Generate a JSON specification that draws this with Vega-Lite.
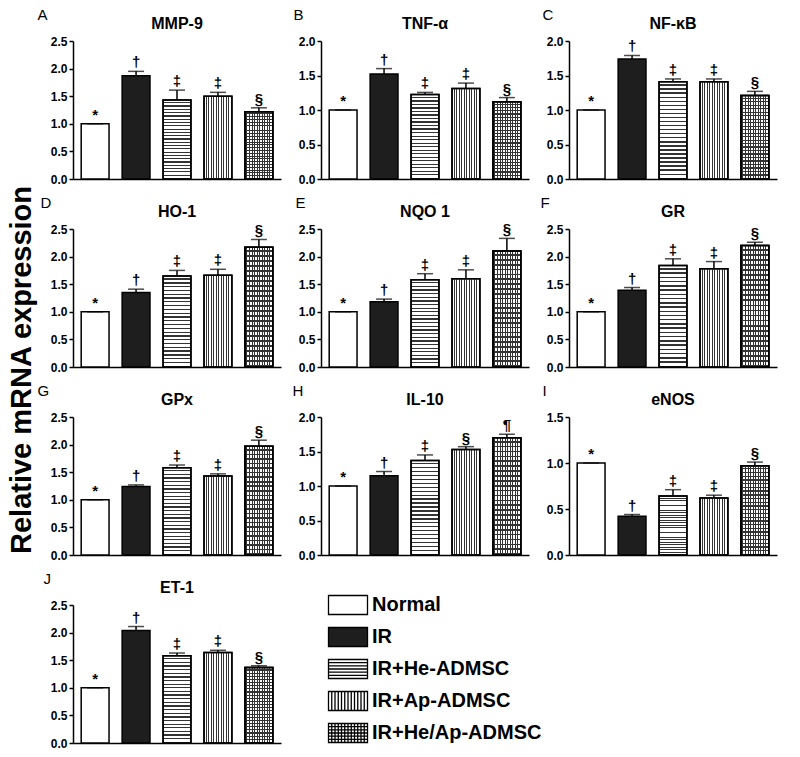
{
"$schema": "https://vega.github.io/schema/vega-lite/v6.json",
"padding": {"left": 7, "top": 7, "right": 5, "bottom": 5},
"title": {"text": "Relative mRNA expression", "orient": "left", "anchor": "middle", "frame": "bounds", "fontSize": 29, "fontWeight": "bold", "offset": -29, "dy": 0, "dx": 8, "baseline": "bottom"},
"datasets": {"d": [
{"gene":"MMP-9","group":"Normal","mean":1.0,"upper":1.0,"sym":"*"},
{"gene":"MMP-9","group":"IR","mean":1.87,"upper":1.95,"sym":"†"},
{"gene":"MMP-9","group":"IR+He-ADMSC","mean":1.43,"upper":1.61,"sym":"‡"},
{"gene":"MMP-9","group":"IR+Ap-ADMSC","mean":1.5,"upper":1.57,"sym":"‡"},
{"gene":"MMP-9","group":"IR+He/Ap-ADMSC","mean":1.22,"upper":1.29,"sym":"§"},
{"gene":"TNF-α","group":"Normal","mean":1.0,"upper":1.0,"sym":"*"},
{"gene":"TNF-α","group":"IR","mean":1.52,"upper":1.6,"sym":"†"},
{"gene":"TNF-α","group":"IR+He-ADMSC","mean":1.225,"upper":1.255,"sym":"‡"},
{"gene":"TNF-α","group":"IR+Ap-ADMSC","mean":1.31,"upper":1.39,"sym":"‡"},
{"gene":"TNF-α","group":"IR+He/Ap-ADMSC","mean":1.12,"upper":1.18,"sym":"§"},
{"gene":"NF-κB","group":"Normal","mean":1.0,"upper":1.0,"sym":"*"},
{"gene":"NF-κB","group":"IR","mean":1.74,"upper":1.79,"sym":"†"},
{"gene":"NF-κB","group":"IR+He-ADMSC","mean":1.41,"upper":1.45,"sym":"‡"},
{"gene":"NF-κB","group":"IR+Ap-ADMSC","mean":1.41,"upper":1.45,"sym":"‡"},
{"gene":"NF-κB","group":"IR+He/Ap-ADMSC","mean":1.21,"upper":1.27,"sym":"§"},
{"gene":"HO-1","group":"Normal","mean":1.0,"upper":1.0,"sym":"*"},
{"gene":"HO-1","group":"IR","mean":1.35,"upper":1.41,"sym":"†"},
{"gene":"HO-1","group":"IR+He-ADMSC","mean":1.65,"upper":1.75,"sym":"‡"},
{"gene":"HO-1","group":"IR+Ap-ADMSC","mean":1.66,"upper":1.77,"sym":"‡"},
{"gene":"HO-1","group":"IR+He/Ap-ADMSC","mean":2.17,"upper":2.31,"sym":"§"},
{"gene":"NQO 1","group":"Normal","mean":1.0,"upper":1.0,"sym":"*"},
{"gene":"NQO 1","group":"IR","mean":1.18,"upper":1.23,"sym":"†"},
{"gene":"NQO 1","group":"IR+He-ADMSC","mean":1.58,"upper":1.69,"sym":"‡"},
{"gene":"NQO 1","group":"IR+Ap-ADMSC","mean":1.6,"upper":1.76,"sym":"‡"},
{"gene":"NQO 1","group":"IR+He/Ap-ADMSC","mean":2.1,"upper":2.33,"sym":"§"},
{"gene":"GR","group":"Normal","mean":1.0,"upper":1.0,"sym":"*"},
{"gene":"GR","group":"IR","mean":1.39,"upper":1.44,"sym":"†"},
{"gene":"GR","group":"IR+He-ADMSC","mean":1.84,"upper":1.96,"sym":"‡"},
{"gene":"GR","group":"IR+Ap-ADMSC","mean":1.78,"upper":1.91,"sym":"‡"},
{"gene":"GR","group":"IR+He/Ap-ADMSC","mean":2.2,"upper":2.26,"sym":"§"},
{"gene":"GPx","group":"Normal","mean":1.0,"upper":1.0,"sym":"*"},
{"gene":"GPx","group":"IR","mean":1.24,"upper":1.27,"sym":"†"},
{"gene":"GPx","group":"IR+He-ADMSC","mean":1.58,"upper":1.63,"sym":"‡"},
{"gene":"GPx","group":"IR+Ap-ADMSC","mean":1.43,"upper":1.47,"sym":"‡"},
{"gene":"GPx","group":"IR+He/Ap-ADMSC","mean":1.97,"upper":2.08,"sym":"§"},
{"gene":"IL-10","group":"Normal","mean":1.0,"upper":1.0,"sym":"*"},
{"gene":"IL-10","group":"IR","mean":1.15,"upper":1.21,"sym":"†"},
{"gene":"IL-10","group":"IR+He-ADMSC","mean":1.37,"upper":1.45,"sym":"‡"},
{"gene":"IL-10","group":"IR+Ap-ADMSC","mean":1.53,"upper":1.57,"sym":"§"},
{"gene":"IL-10","group":"IR+He/Ap-ADMSC","mean":1.7,"upper":1.75,"sym":"¶"},
{"gene":"eNOS","group":"Normal","mean":1.0,"upper":1.0,"sym":"*"},
{"gene":"eNOS","group":"IR","mean":0.42,"upper":0.44,"sym":"†"},
{"gene":"eNOS","group":"IR+He-ADMSC","mean":0.64,"upper":0.71,"sym":"‡"},
{"gene":"eNOS","group":"IR+Ap-ADMSC","mean":0.62,"upper":0.65,"sym":"‡"},
{"gene":"eNOS","group":"IR+He/Ap-ADMSC","mean":0.97,"upper":1.01,"sym":"§"},
{"gene":"ET-1","group":"Normal","mean":1.0,"upper":1.0,"sym":"*"},
{"gene":"ET-1","group":"IR","mean":2.04,"upper":2.11,"sym":"†"},
{"gene":"ET-1","group":"IR+He-ADMSC","mean":1.58,"upper":1.63,"sym":"‡"},
{"gene":"ET-1","group":"IR+Ap-ADMSC","mean":1.64,"upper":1.68,"sym":"‡"},
{"gene":"ET-1","group":"IR+He/Ap-ADMSC","mean":1.37,"upper":1.4,"sym":"§"}
]},
"columns": 3,
"spacing": {"row": 50, "column": 40},
"bounds": "flush",
"concat": [
{"width":208,"height":138,"title":"MMP-9","data":{"name":"d"},"transform":[{"filter":"datum.gene==='MMP-9'"}],
"encoding":{"x":{"field":"group","type":"nominal","sort":null,"scale":{"domain":["Normal","IR","IR+He-ADMSC","IR+Ap-ADMSC","IR+He/Ap-ADMSC"],"paddingInner":0.32,"paddingOuter":0.2},"axis":{"labels":false,"ticks":false,"title":null}},
"y":{"field":"mean","type":"quantitative","scale":{"domain":[0,2.5],"nice":false},"axis":{"title":"A","titleX":-36,"values":[0,0.5,1,1.5,2,2.5],"format":".1f"}}},
"layer":[
{"mark":{"type":"bar","stroke":"black","strokeWidth":1.5},"encoding":{"color":{"field":"group","type":"nominal","sort":null,
"scale":{"domain":["Normal","IR","IR+He-ADMSC","IR+Ap-ADMSC","IR+He/Ap-ADMSC"],"range":["#ffffff","#1e1e1e","#ffffff","#ffffff","#ffffff"]},
"legend":{"title":null,"orient":"none","legendX":264,"legendY":553,"symbolSize":400,"symbolStrokeWidth":1.3,"symbolStrokeColor":"black","symbolOpacity":1,"labelFontSize":20,"labelFontWeight":"bold","labelFont":"Liberation Sans","labelColor":"black","labelOffset":13,"labelLimit":400,"rowPadding":6,
"encode":{"symbols":{"update":{
"shape":{"signal":"datum.value==='IR+He-ADMSC'?'M-1.95,-0.95H1.95V0.95H-1.95ZM-1.95,-0.63H1.95M-1.95,-0.32H1.95M-1.95,0H1.95M-1.95,0.32H1.95M-1.95,0.63H1.95':datum.value==='IR+Ap-ADMSC'?'M-1.95,-0.95H1.95V0.95H-1.95ZM-1.625,-0.95V0.95M-1.3,-0.95V0.95M-0.975,-0.95V0.95M-0.65,-0.95V0.95M-0.325,-0.95V0.95M0,-0.95V0.95M0.325,-0.95V0.95M0.65,-0.95V0.95M0.975,-0.95V0.95M1.3,-0.95V0.95M1.625,-0.95V0.95':datum.value==='IR+He/Ap-ADMSC'?'M-1.95,-0.95H1.95V0.95H-1.95ZM-1.95,-0.63H1.95M-1.95,-0.32H1.95M-1.95,0H1.95M-1.95,0.32H1.95M-1.95,0.63H1.95M-1.625,-0.95V0.95M-1.3,-0.95V0.95M-0.975,-0.95V0.95M-0.65,-0.95V0.95M-0.325,-0.95V0.95M0,-0.95V0.95M0.325,-0.95V0.95M0.65,-0.95V0.95M0.975,-0.95V0.95M1.3,-0.95V0.95M1.625,-0.95V0.95':'M-1.95,-0.95H1.95V0.95H-1.95Z'"},
"fill":{"signal":"datum.value==='IR'?'#1e1e1e':'#ffffff'"},
"stroke":{"value":"black"}}}}}}}},
{"transform":[{"filter":{"field":"group","oneOf":["IR+He-ADMSC","IR+He/Ap-ADMSC"]}}],"mark":{"type":"bar","stroke":"black","strokeWidth":1.5}},
{"transform":[{"filter":{"field":"group","oneOf":["IR+Ap-ADMSC","IR+He/Ap-ADMSC"]}}],"mark":{"type":"rect","stroke":"black","strokeWidth":1.5},"encoding":{"y2":{"datum":0}}},
{"mark":{"type":"rule","color":"black","strokeWidth":1.5},"encoding":{"y2":{"field":"upper"}}},
{"mark":{"type":"tick","color":"black","size":16,"thickness":1.5},"encoding":{"y":{"field":"upper","type":"quantitative"}}},
{"mark":{"type":"text","baseline":"alphabetic","dy":-4,"fontSize":15,"fontWeight":"bold","color":"black"},"encoding":{"y":{"field":"upper","type":"quantitative"},"text":{"field":"sym"}}}
]},

{"width":208,"height":138,"title":"TNF-α","data":{"name":"d"},"transform":[{"filter":"datum.gene==='TNF-α'"}],
"encoding":{"x":{"field":"group","type":"nominal","sort":null,"scale":{"domain":["Normal","IR","IR+He-ADMSC","IR+Ap-ADMSC","IR+He/Ap-ADMSC"],"paddingInner":0.32,"paddingOuter":0.2},"axis":{"labels":false,"ticks":false,"title":null}},
"y":{"field":"mean","type":"quantitative","scale":{"domain":[0,2],"nice":false},"axis":{"title":"B","titleX":-28,"values":[0,0.5,1,1.5,2],"format":".1f"}}},
"layer":[
{"mark":{"type":"bar","stroke":"black","strokeWidth":1.5},"encoding":{"color":{"field":"group","type":"nominal","sort":null}}},
{"transform":[{"filter":{"field":"group","oneOf":["IR+He-ADMSC","IR+He/Ap-ADMSC"]}}],"mark":{"type":"bar","stroke":"black","strokeWidth":1.5}},
{"transform":[{"filter":{"field":"group","oneOf":["IR+Ap-ADMSC","IR+He/Ap-ADMSC"]}}],"mark":{"type":"rect","stroke":"black","strokeWidth":1.5},"encoding":{"y2":{"datum":0}}},
{"mark":{"type":"rule","color":"black","strokeWidth":1.5},"encoding":{"y2":{"field":"upper"}}},
{"mark":{"type":"tick","color":"black","size":16,"thickness":1.5},"encoding":{"y":{"field":"upper","type":"quantitative"}}},
{"mark":{"type":"text","baseline":"alphabetic","dy":-4,"fontSize":15,"fontWeight":"bold","color":"black"},"encoding":{"y":{"field":"upper","type":"quantitative"},"text":{"field":"sym"}}}
]},

{"width":208,"height":138,"title":"NF-κB","data":{"name":"d"},"transform":[{"filter":"datum.gene==='NF-κB'"}],
"encoding":{"x":{"field":"group","type":"nominal","sort":null,"scale":{"domain":["Normal","IR","IR+He-ADMSC","IR+Ap-ADMSC","IR+He/Ap-ADMSC"],"paddingInner":0.32,"paddingOuter":0.2},"axis":{"labels":false,"ticks":false,"title":null}},
"y":{"field":"mean","type":"quantitative","scale":{"domain":[0,2],"nice":false},"axis":{"title":"C","titleX":-27,"values":[0,0.5,1,1.5,2],"format":".1f"}}},
"layer":[
{"mark":{"type":"bar","stroke":"black","strokeWidth":1.5},"encoding":{"color":{"field":"group","type":"nominal","sort":null}}},
{"transform":[{"filter":{"field":"group","oneOf":["IR+He-ADMSC","IR+He/Ap-ADMSC"]}}],"mark":{"type":"bar","stroke":"black","strokeWidth":1.5}},
{"transform":[{"filter":{"field":"group","oneOf":["IR+Ap-ADMSC","IR+He/Ap-ADMSC"]}}],"mark":{"type":"rect","stroke":"black","strokeWidth":1.5},"encoding":{"y2":{"datum":0}}},
{"mark":{"type":"rule","color":"black","strokeWidth":1.5},"encoding":{"y2":{"field":"upper"}}},
{"mark":{"type":"tick","color":"black","size":16,"thickness":1.5},"encoding":{"y":{"field":"upper","type":"quantitative"}}},
{"mark":{"type":"text","baseline":"alphabetic","dy":-4,"fontSize":15,"fontWeight":"bold","color":"black"},"encoding":{"y":{"field":"upper","type":"quantitative"},"text":{"field":"sym"}}}
]},

{"width":208,"height":138,"title":"HO-1","data":{"name":"d"},"transform":[{"filter":"datum.gene==='HO-1'"}],
"encoding":{"x":{"field":"group","type":"nominal","sort":null,"scale":{"domain":["Normal","IR","IR+He-ADMSC","IR+Ap-ADMSC","IR+He/Ap-ADMSC"],"paddingInner":0.32,"paddingOuter":0.2},"axis":{"labels":false,"ticks":false,"title":null}},
"y":{"field":"mean","type":"quantitative","scale":{"domain":[0,2.5],"nice":false},"axis":{"title":"D","titleX":-33,"values":[0,0.5,1,1.5,2,2.5],"format":".1f"}}},
"layer":[
{"mark":{"type":"bar","stroke":"black","strokeWidth":1.5},"encoding":{"color":{"field":"group","type":"nominal","sort":null}}},
{"transform":[{"filter":{"field":"group","oneOf":["IR+He-ADMSC","IR+He/Ap-ADMSC"]}}],"mark":{"type":"bar","stroke":"black","strokeWidth":1.5}},
{"transform":[{"filter":{"field":"group","oneOf":["IR+Ap-ADMSC","IR+He/Ap-ADMSC"]}}],"mark":{"type":"rect","stroke":"black","strokeWidth":1.5},"encoding":{"y2":{"datum":0}}},
{"mark":{"type":"rule","color":"black","strokeWidth":1.5},"encoding":{"y2":{"field":"upper"}}},
{"mark":{"type":"tick","color":"black","size":16,"thickness":1.5},"encoding":{"y":{"field":"upper","type":"quantitative"}}},
{"mark":{"type":"text","baseline":"alphabetic","dy":-4,"fontSize":15,"fontWeight":"bold","color":"black"},"encoding":{"y":{"field":"upper","type":"quantitative"},"text":{"field":"sym"}}}
]},

{"width":208,"height":138,"title":"NQO 1","data":{"name":"d"},"transform":[{"filter":"datum.gene==='NQO 1'"}],
"encoding":{"x":{"field":"group","type":"nominal","sort":null,"scale":{"domain":["Normal","IR","IR+He-ADMSC","IR+Ap-ADMSC","IR+He/Ap-ADMSC"],"paddingInner":0.32,"paddingOuter":0.2},"axis":{"labels":false,"ticks":false,"title":null}},
"y":{"field":"mean","type":"quantitative","scale":{"domain":[0,2.5],"nice":false},"axis":{"title":"E","titleX":-26,"values":[0,0.5,1,1.5,2,2.5],"format":".1f"}}},
"layer":[
{"mark":{"type":"bar","stroke":"black","strokeWidth":1.5},"encoding":{"color":{"field":"group","type":"nominal","sort":null}}},
{"transform":[{"filter":{"field":"group","oneOf":["IR+He-ADMSC","IR+He/Ap-ADMSC"]}}],"mark":{"type":"bar","stroke":"black","strokeWidth":1.5}},
{"transform":[{"filter":{"field":"group","oneOf":["IR+Ap-ADMSC","IR+He/Ap-ADMSC"]}}],"mark":{"type":"rect","stroke":"black","strokeWidth":1.5},"encoding":{"y2":{"datum":0}}},
{"mark":{"type":"rule","color":"black","strokeWidth":1.5},"encoding":{"y2":{"field":"upper"}}},
{"mark":{"type":"tick","color":"black","size":16,"thickness":1.5},"encoding":{"y":{"field":"upper","type":"quantitative"}}},
{"mark":{"type":"text","baseline":"alphabetic","dy":-4,"fontSize":15,"fontWeight":"bold","color":"black"},"encoding":{"y":{"field":"upper","type":"quantitative"},"text":{"field":"sym"}}}
]},

{"width":208,"height":138,"title":"GR","data":{"name":"d"},"transform":[{"filter":"datum.gene==='GR'"}],
"encoding":{"x":{"field":"group","type":"nominal","sort":null,"scale":{"domain":["Normal","IR","IR+He-ADMSC","IR+Ap-ADMSC","IR+He/Ap-ADMSC"],"paddingInner":0.32,"paddingOuter":0.2},"axis":{"labels":false,"ticks":false,"title":null}},
"y":{"field":"mean","type":"quantitative","scale":{"domain":[0,2.5],"nice":false},"axis":{"title":"F","titleX":-29,"values":[0,0.5,1,1.5,2,2.5],"format":".1f"}}},
"layer":[
{"mark":{"type":"bar","stroke":"black","strokeWidth":1.5},"encoding":{"color":{"field":"group","type":"nominal","sort":null}}},
{"transform":[{"filter":{"field":"group","oneOf":["IR+He-ADMSC","IR+He/Ap-ADMSC"]}}],"mark":{"type":"bar","stroke":"black","strokeWidth":1.5}},
{"transform":[{"filter":{"field":"group","oneOf":["IR+Ap-ADMSC","IR+He/Ap-ADMSC"]}}],"mark":{"type":"rect","stroke":"black","strokeWidth":1.5},"encoding":{"y2":{"datum":0}}},
{"mark":{"type":"rule","color":"black","strokeWidth":1.5},"encoding":{"y2":{"field":"upper"}}},
{"mark":{"type":"tick","color":"black","size":16,"thickness":1.5},"encoding":{"y":{"field":"upper","type":"quantitative"}}},
{"mark":{"type":"text","baseline":"alphabetic","dy":-4,"fontSize":15,"fontWeight":"bold","color":"black"},"encoding":{"y":{"field":"upper","type":"quantitative"},"text":{"field":"sym"}}}
]},

{"width":208,"height":138,"title":"GPx","data":{"name":"d"},"transform":[{"filter":"datum.gene==='GPx'"}],
"encoding":{"x":{"field":"group","type":"nominal","sort":null,"scale":{"domain":["Normal","IR","IR+He-ADMSC","IR+Ap-ADMSC","IR+He/Ap-ADMSC"],"paddingInner":0.32,"paddingOuter":0.2},"axis":{"labels":false,"ticks":false,"title":null}},
"y":{"field":"mean","type":"quantitative","scale":{"domain":[0,2.5],"nice":false},"axis":{"title":"G","titleX":-36,"values":[0,0.5,1,1.5,2,2.5],"format":".1f"}}},
"layer":[
{"mark":{"type":"bar","stroke":"black","strokeWidth":1.5},"encoding":{"color":{"field":"group","type":"nominal","sort":null}}},
{"transform":[{"filter":{"field":"group","oneOf":["IR+He-ADMSC","IR+He/Ap-ADMSC"]}}],"mark":{"type":"bar","stroke":"black","strokeWidth":1.5}},
{"transform":[{"filter":{"field":"group","oneOf":["IR+Ap-ADMSC","IR+He/Ap-ADMSC"]}}],"mark":{"type":"rect","stroke":"black","strokeWidth":1.5},"encoding":{"y2":{"datum":0}}},
{"mark":{"type":"rule","color":"black","strokeWidth":1.5},"encoding":{"y2":{"field":"upper"}}},
{"mark":{"type":"tick","color":"black","size":16,"thickness":1.5},"encoding":{"y":{"field":"upper","type":"quantitative"}}},
{"mark":{"type":"text","baseline":"alphabetic","dy":-4,"fontSize":15,"fontWeight":"bold","color":"black"},"encoding":{"y":{"field":"upper","type":"quantitative"},"text":{"field":"sym"}}}
]},

{"width":208,"height":138,"title":"IL-10","data":{"name":"d"},"transform":[{"filter":"datum.gene==='IL-10'"}],
"encoding":{"x":{"field":"group","type":"nominal","sort":null,"scale":{"domain":["Normal","IR","IR+He-ADMSC","IR+Ap-ADMSC","IR+He/Ap-ADMSC"],"paddingInner":0.32,"paddingOuter":0.2},"axis":{"labels":false,"ticks":false,"title":null}},
"y":{"field":"mean","type":"quantitative","scale":{"domain":[0,2],"nice":false},"axis":{"title":"H","titleX":-29,"values":[0,0.5,1,1.5,2],"format":".1f"}}},
"layer":[
{"mark":{"type":"bar","stroke":"black","strokeWidth":1.5},"encoding":{"color":{"field":"group","type":"nominal","sort":null}}},
{"transform":[{"filter":{"field":"group","oneOf":["IR+He-ADMSC","IR+He/Ap-ADMSC"]}}],"mark":{"type":"bar","stroke":"black","strokeWidth":1.5}},
{"transform":[{"filter":{"field":"group","oneOf":["IR+Ap-ADMSC","IR+He/Ap-ADMSC"]}}],"mark":{"type":"rect","stroke":"black","strokeWidth":1.5},"encoding":{"y2":{"datum":0}}},
{"mark":{"type":"rule","color":"black","strokeWidth":1.5},"encoding":{"y2":{"field":"upper"}}},
{"mark":{"type":"tick","color":"black","size":16,"thickness":1.5},"encoding":{"y":{"field":"upper","type":"quantitative"}}},
{"mark":{"type":"text","baseline":"alphabetic","dy":-4,"fontSize":15,"fontWeight":"bold","color":"black"},"encoding":{"y":{"field":"upper","type":"quantitative"},"text":{"field":"sym"}}}
]},

{"width":208,"height":138,"title":"eNOS","data":{"name":"d"},"transform":[{"filter":"datum.gene==='eNOS'"}],
"encoding":{"x":{"field":"group","type":"nominal","sort":null,"scale":{"domain":["Normal","IR","IR+He-ADMSC","IR+Ap-ADMSC","IR+He/Ap-ADMSC"],"paddingInner":0.32,"paddingOuter":0.2},"axis":{"labels":false,"ticks":false,"title":null}},
"y":{"field":"mean","type":"quantitative","scale":{"domain":[0,1.5],"nice":false},"axis":{"title":"I","titleX":-27,"values":[0,0.5,1,1.5],"format":".1f"}}},
"layer":[
{"mark":{"type":"bar","stroke":"black","strokeWidth":1.5},"encoding":{"color":{"field":"group","type":"nominal","sort":null}}},
{"transform":[{"filter":{"field":"group","oneOf":["IR+He-ADMSC","IR+He/Ap-ADMSC"]}}],"mark":{"type":"bar","stroke":"black","strokeWidth":1.5}},
{"transform":[{"filter":{"field":"group","oneOf":["IR+Ap-ADMSC","IR+He/Ap-ADMSC"]}}],"mark":{"type":"rect","stroke":"black","strokeWidth":1.5},"encoding":{"y2":{"datum":0}}},
{"mark":{"type":"rule","color":"black","strokeWidth":1.5},"encoding":{"y2":{"field":"upper"}}},
{"mark":{"type":"tick","color":"black","size":16,"thickness":1.5},"encoding":{"y":{"field":"upper","type":"quantitative"}}},
{"mark":{"type":"text","baseline":"alphabetic","dy":-4,"fontSize":15,"fontWeight":"bold","color":"black"},"encoding":{"y":{"field":"upper","type":"quantitative"},"text":{"field":"sym"}}}
]},

{"width":208,"height":138,"title":"ET-1","data":{"name":"d"},"transform":[{"filter":"datum.gene==='ET-1'"}],
"encoding":{"x":{"field":"group","type":"nominal","sort":null,"scale":{"domain":["Normal","IR","IR+He-ADMSC","IR+Ap-ADMSC","IR+He/Ap-ADMSC"],"paddingInner":0.32,"paddingOuter":0.2},"axis":{"labels":false,"ticks":false,"title":null}},
"y":{"field":"mean","type":"quantitative","scale":{"domain":[0,2.5],"nice":false},"axis":{"title":"J","titleX":-30,"values":[0,0.5,1,1.5,2,2.5],"format":".1f"}}},
"layer":[
{"mark":{"type":"bar","stroke":"black","strokeWidth":1.5},"encoding":{"color":{"field":"group","type":"nominal","sort":null}}},
{"transform":[{"filter":{"field":"group","oneOf":["IR+He-ADMSC","IR+He/Ap-ADMSC"]}}],"mark":{"type":"bar","stroke":"black","strokeWidth":1.5}},
{"transform":[{"filter":{"field":"group","oneOf":["IR+Ap-ADMSC","IR+He/Ap-ADMSC"]}}],"mark":{"type":"rect","stroke":"black","strokeWidth":1.5},"encoding":{"y2":{"datum":0}}},
{"mark":{"type":"rule","color":"black","strokeWidth":1.5},"encoding":{"y2":{"field":"upper"}}},
{"mark":{"type":"tick","color":"black","size":16,"thickness":1.5},"encoding":{"y":{"field":"upper","type":"quantitative"}}},
{"mark":{"type":"text","baseline":"alphabetic","dy":-4,"fontSize":15,"fontWeight":"bold","color":"black"},"encoding":{"y":{"field":"upper","type":"quantitative"},"text":{"field":"sym"}}}
]}
],
"config": {
"font": "Liberation Sans",
"view": {"stroke": null},
"axis": {"grid": false, "domainColor": "black", "domainWidth": 1.5, "tickColor": "black", "tickWidth": 1.5, "tickSize": 4, "labelFont": "Liberation Sans", "labelFontWeight": "bold", "labelFontSize": 12, "labelColor": "black", "labelPadding": 2},
"axisY": {"titleAngle": 0, "titleAlign": "left", "titleBaseline": "alphabetic", "titleY": -22, "titleFontSize": 15, "titleFontWeight": "normal", "titleColor": "black", "titleFont": "Liberation Sans"},
"title": {"fontSize": 16, "fontWeight": "bold", "color": "black", "font": "Liberation Sans", "anchor": "middle", "frame": "group", "baseline": "alphabetic", "offset": 0, "dy": 29},
"bar": {"color": {"gradient":"linear","x1":0,"y1":0,"x2":0,"y2":1,"stops":[
{"offset":0,"color":"rgba(0,0,0,0)"},{"offset":0.0271,"color":"rgba(0,0,0,0)"},{"offset":0.0271,"color":"#333"},{"offset":0.0417,"color":"#333"},
{"offset":0.0417,"color":"rgba(0,0,0,0)"},{"offset":0.0688,"color":"rgba(0,0,0,0)"},{"offset":0.0688,"color":"#333"},{"offset":0.0833,"color":"#333"},
{"offset":0.0833,"color":"rgba(0,0,0,0)"},{"offset":0.1104,"color":"rgba(0,0,0,0)"},{"offset":0.1104,"color":"#333"},{"offset":0.125,"color":"#333"},
{"offset":0.125,"color":"rgba(0,0,0,0)"},{"offset":0.1521,"color":"rgba(0,0,0,0)"},{"offset":0.1521,"color":"#333"},{"offset":0.1667,"color":"#333"},
{"offset":0.1667,"color":"rgba(0,0,0,0)"},{"offset":0.1938,"color":"rgba(0,0,0,0)"},{"offset":0.1938,"color":"#333"},{"offset":0.2083,"color":"#333"},
{"offset":0.2083,"color":"rgba(0,0,0,0)"},{"offset":0.2354,"color":"rgba(0,0,0,0)"},{"offset":0.2354,"color":"#333"},{"offset":0.25,"color":"#333"},
{"offset":0.25,"color":"rgba(0,0,0,0)"},{"offset":0.2771,"color":"rgba(0,0,0,0)"},{"offset":0.2771,"color":"#333"},{"offset":0.2917,"color":"#333"},
{"offset":0.2917,"color":"rgba(0,0,0,0)"},{"offset":0.3188,"color":"rgba(0,0,0,0)"},{"offset":0.3188,"color":"#333"},{"offset":0.3333,"color":"#333"},
{"offset":0.3333,"color":"rgba(0,0,0,0)"},{"offset":0.3604,"color":"rgba(0,0,0,0)"},{"offset":0.3604,"color":"#333"},{"offset":0.375,"color":"#333"},
{"offset":0.375,"color":"rgba(0,0,0,0)"},{"offset":0.4021,"color":"rgba(0,0,0,0)"},{"offset":0.4021,"color":"#333"},{"offset":0.4167,"color":"#333"},
{"offset":0.4167,"color":"rgba(0,0,0,0)"},{"offset":0.4438,"color":"rgba(0,0,0,0)"},{"offset":0.4438,"color":"#333"},{"offset":0.4583,"color":"#333"},
{"offset":0.4583,"color":"rgba(0,0,0,0)"},{"offset":0.4854,"color":"rgba(0,0,0,0)"},{"offset":0.4854,"color":"#333"},{"offset":0.5,"color":"#333"},
{"offset":0.5,"color":"rgba(0,0,0,0)"},{"offset":0.5271,"color":"rgba(0,0,0,0)"},{"offset":0.5271,"color":"#333"},{"offset":0.5417,"color":"#333"},
{"offset":0.5417,"color":"rgba(0,0,0,0)"},{"offset":0.5688,"color":"rgba(0,0,0,0)"},{"offset":0.5688,"color":"#333"},{"offset":0.5833,"color":"#333"},
{"offset":0.5833,"color":"rgba(0,0,0,0)"},{"offset":0.6104,"color":"rgba(0,0,0,0)"},{"offset":0.6104,"color":"#333"},{"offset":0.625,"color":"#333"},
{"offset":0.625,"color":"rgba(0,0,0,0)"},{"offset":0.6521,"color":"rgba(0,0,0,0)"},{"offset":0.6521,"color":"#333"},{"offset":0.6667,"color":"#333"},
{"offset":0.6667,"color":"rgba(0,0,0,0)"},{"offset":0.6938,"color":"rgba(0,0,0,0)"},{"offset":0.6938,"color":"#333"},{"offset":0.7083,"color":"#333"},
{"offset":0.7083,"color":"rgba(0,0,0,0)"},{"offset":0.7354,"color":"rgba(0,0,0,0)"},{"offset":0.7354,"color":"#333"},{"offset":0.75,"color":"#333"},
{"offset":0.75,"color":"rgba(0,0,0,0)"},{"offset":0.7771,"color":"rgba(0,0,0,0)"},{"offset":0.7771,"color":"#333"},{"offset":0.7917,"color":"#333"},
{"offset":0.7917,"color":"rgba(0,0,0,0)"},{"offset":0.8188,"color":"rgba(0,0,0,0)"},{"offset":0.8188,"color":"#333"},{"offset":0.8333,"color":"#333"},
{"offset":0.8333,"color":"rgba(0,0,0,0)"},{"offset":0.8604,"color":"rgba(0,0,0,0)"},{"offset":0.8604,"color":"#333"},{"offset":0.875,"color":"#333"},
{"offset":0.875,"color":"rgba(0,0,0,0)"},{"offset":0.9021,"color":"rgba(0,0,0,0)"},{"offset":0.9021,"color":"#333"},{"offset":0.9167,"color":"#333"},
{"offset":0.9167,"color":"rgba(0,0,0,0)"},{"offset":0.9438,"color":"rgba(0,0,0,0)"},{"offset":0.9438,"color":"#333"},{"offset":0.9583,"color":"#333"},
{"offset":0.9583,"color":"rgba(0,0,0,0)"},{"offset":0.9854,"color":"rgba(0,0,0,0)"},{"offset":0.9854,"color":"#333"},{"offset":1,"color":"#333"}]}},
"rect": {"color": {"gradient":"linear","x1":0,"y1":0,"x2":1,"y2":0,"stops":[
{"offset":0,"color":"rgba(0,0,0,0)"},{"offset":0.055,"color":"rgba(0,0,0,0)"},{"offset":0.055,"color":"#333"},{"offset":0.0909,"color":"#333"},
{"offset":0.0909,"color":"rgba(0,0,0,0)"},{"offset":0.1459,"color":"rgba(0,0,0,0)"},{"offset":0.1459,"color":"#333"},{"offset":0.1818,"color":"#333"},
{"offset":0.1818,"color":"rgba(0,0,0,0)"},{"offset":0.2368,"color":"rgba(0,0,0,0)"},{"offset":0.2368,"color":"#333"},{"offset":0.2727,"color":"#333"},
{"offset":0.2727,"color":"rgba(0,0,0,0)"},{"offset":0.3277,"color":"rgba(0,0,0,0)"},{"offset":0.3277,"color":"#333"},{"offset":0.3636,"color":"#333"},
{"offset":0.3636,"color":"rgba(0,0,0,0)"},{"offset":0.4186,"color":"rgba(0,0,0,0)"},{"offset":0.4186,"color":"#333"},{"offset":0.4545,"color":"#333"},
{"offset":0.4545,"color":"rgba(0,0,0,0)"},{"offset":0.5095,"color":"rgba(0,0,0,0)"},{"offset":0.5095,"color":"#333"},{"offset":0.5455,"color":"#333"},
{"offset":0.5455,"color":"rgba(0,0,0,0)"},{"offset":0.6005,"color":"rgba(0,0,0,0)"},{"offset":0.6005,"color":"#333"},{"offset":0.6364,"color":"#333"},
{"offset":0.6364,"color":"rgba(0,0,0,0)"},{"offset":0.6914,"color":"rgba(0,0,0,0)"},{"offset":0.6914,"color":"#333"},{"offset":0.7273,"color":"#333"},
{"offset":0.7273,"color":"rgba(0,0,0,0)"},{"offset":0.7823,"color":"rgba(0,0,0,0)"},{"offset":0.7823,"color":"#333"},{"offset":0.8182,"color":"#333"},
{"offset":0.8182,"color":"rgba(0,0,0,0)"},{"offset":0.8732,"color":"rgba(0,0,0,0)"},{"offset":0.8732,"color":"#333"},{"offset":0.9091,"color":"#333"},
{"offset":0.9091,"color":"rgba(0,0,0,0)"},{"offset":0.9641,"color":"rgba(0,0,0,0)"},{"offset":0.9641,"color":"#333"},{"offset":1,"color":"#333"}]}}
}
}
